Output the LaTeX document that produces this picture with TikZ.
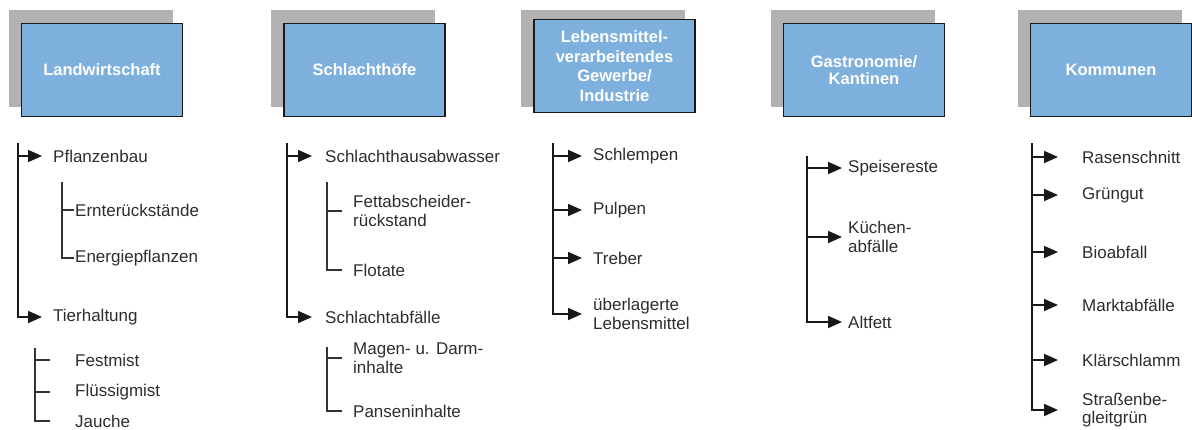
\documentclass[tikz,border=0pt]{standalone}
\usepackage{fontspec}
\setmainfont{Liberation Sans}
\usetikzlibrary{arrows.meta}
\definecolor{hdrblue}{RGB}{126,176,221}
\definecolor{shgray}{RGB}{178,178,178}
\definecolor{txt}{RGB}{45,45,45}
\begin{document}
\begin{tikzpicture}[x=1pt,y=-1pt,
 shadowbox/.style={fill=shgray, draw=none, minimum width=164pt, minimum height=97pt, inner sep=0pt},
 hdr/.style={fill=hdrblue, draw=black!90, line width=1.8pt, minimum width=161pt, minimum height=93pt, inner sep=0pt, text=white, font=\fontsize{16.5}{17}\selectfont\bfseries, align=center},
 item/.style={anchor=west, inner sep=0pt, text=txt, font=\fontsize{17}{18.5}\selectfont, align=left},
 trunk/.style={draw=black!90, line width=1.8pt},
 arr/.style={trunk, -{Triangle[length=14pt,width=12pt]}},
 brk/.style={draw=black!80, line width=1.3pt}]
\useasboundingbox (0,0) rectangle (1192,429);
% shadows
\node[shadowbox] (s1) at (90.5,58.5) {};
\node[shadowbox] (s2) at (353,58.5) {};
\node[shadowbox] (s3) at (603,58.5) {};
\node[shadowbox] (s4) at (852.5,58.5) {};
\node[shadowbox] (s5) at (1100,58.5) {};
% headers
\node[hdr] (h1) at (102,70) {Landwirtschaft};
\node[hdr] (h2) at (364.5,70) {Schlachthöfe};
\node[hdr, font=\fontsize{16.5}{19.5}\selectfont\bfseries] (h3) at (614.5,66) {Lebensmittel-\\verarbeitendes\\Gewerbe/\\Industrie};
\node[hdr] (h4) at (864,70) {Gastronomie/\\Kantinen};
\node[hdr] (h5) at (1111,70) {Kommunen};
% column 1
\node[item] (pflanz) at (53,156) {Pflanzenbau};
\node[item] (ernte) at (75,210) {Ernterückstände};
\node[item] (energ) at (75,258) {Energiepflanzen};
\node[item] (tier) at (53,317) {Tierhaltung};
\node[item] (fest) at (75,360) {Festmist};
\node[item] (fluess) at (75,392) {Flüssigmist};
\node[item] (jauche) at (75,421) {Jauche};
\coordinate (t1) at (18,143);
\coordinate (b1a) at (62,182);
\coordinate (b1b) at (35,348);
\draw[arr, shorten >=11pt] (t1 |- pflanz.west) -- (pflanz.west);
\draw[arr, shorten >=11pt] (t1) |- (tier.west);
\draw[brk, shorten >=1pt] (b1a |- ernte.west) -- (ernte.west);
\draw[brk, shorten >=1pt] (b1a) |- (energ.west);
\draw[brk, shorten >=25pt] (b1b |- fest.west) -- (fest.west);
\draw[brk, shorten >=25pt] (b1b |- fluess.west) -- (fluess.west);
\draw[brk, shorten >=25pt] (b1b) |- (jauche.west);
% column 2
\node[item] (schlabw) at (325,156) {Schlachthausabwasser};
\node[item] (fett) at (353,211) {Fettabscheider-\\rückstand};
\node[item] (flot) at (353,270) {Flotate};
\node[item] (schlabf) at (325,317) {Schlachtabfälle};
\node[item] (magen) at (353,358) {Magen- u. Darm-\\inhalte};
\node[item] (pansen) at (353,411) {Panseninhalte};
\coordinate (t2) at (287,143);
\coordinate (b2a) at (327,182);
\coordinate (b2b) at (327,347);
\draw[arr, shorten >=13pt] (t2 |- schlabw.west) -- (schlabw.west);
\draw[arr, shorten >=13pt] (t2) |- (schlabf.west);
\draw[brk, shorten >=11pt] (b2a |- fett.west) -- (fett.west);
\draw[brk, shorten >=11pt] (b2a) |- (flot.west);
\draw[brk, shorten >=11pt] (b2b |- magen.west) -- (magen.west);
\draw[brk, shorten >=11pt] (b2b) |- (pansen.west);
% column 3
\node[item] (schlemp) at (593,156) {Schlempen};
\node[item] (pulp) at (593,210) {Pulpen};
\node[item] (treb) at (593,258) {Treber};
\node[item] (ueber) at (593,314) {überlagerte\\Lebensmittel};
\coordinate (t3) at (553,143);
\draw[arr, shorten >=11pt] (t3 |- schlemp.west) -- (schlemp.west);
\draw[arr, shorten >=11pt] (t3 |- pulp.west) -- (pulp.west);
\draw[arr, shorten >=11pt] (t3 |- treb.west) -- (treb.west);
\draw[arr, shorten >=11pt] (t3) |- (ueber.west);
% column 4
\node[item] (speise) at (848,168) {Speisereste};
\node[item] (kuech) at (848,237) {Küchen-\\abfälle};
\node[item] (altf) at (848,322) {Altfett};
\coordinate (t4) at (807,156);
\draw[arr, shorten >=6pt] (t4 |- speise.west) -- (speise.west);
\draw[arr, shorten >=6pt] (t4 |- kuech.west) -- (kuech.west);
\draw[arr, shorten >=6pt] (t4) |- (altf.west);
% column 5
\node[item] (rasen) at (1082,157) {Rasenschnitt};
\node[item] (gruen) at (1082,195) {Grüngut};
\node[item] (bio) at (1082,252) {Bioabfall};
\node[item] (markt) at (1082,305) {Marktabfälle};
\node[item] (klaer) at (1082,360) {Klärschlamm};
\node[item] (strasse) at (1082,410) {Straßenbe-\\gleitgrün};
\coordinate (t5) at (1032,143);
\draw[arr, shorten >=24pt] (t5 |- rasen.west) -- (rasen.west);
\draw[arr, shorten >=24pt] (t5 |- gruen.west) -- (gruen.west);
\draw[arr, shorten >=24pt] (t5 |- bio.west) -- (bio.west);
\draw[arr, shorten >=24pt] (t5 |- markt.west) -- (markt.west);
\draw[arr, shorten >=24pt] (t5 |- klaer.west) -- (klaer.west);
\draw[arr, shorten >=24pt] (t5) |- (strasse.west);
\end{tikzpicture}
\end{document}
